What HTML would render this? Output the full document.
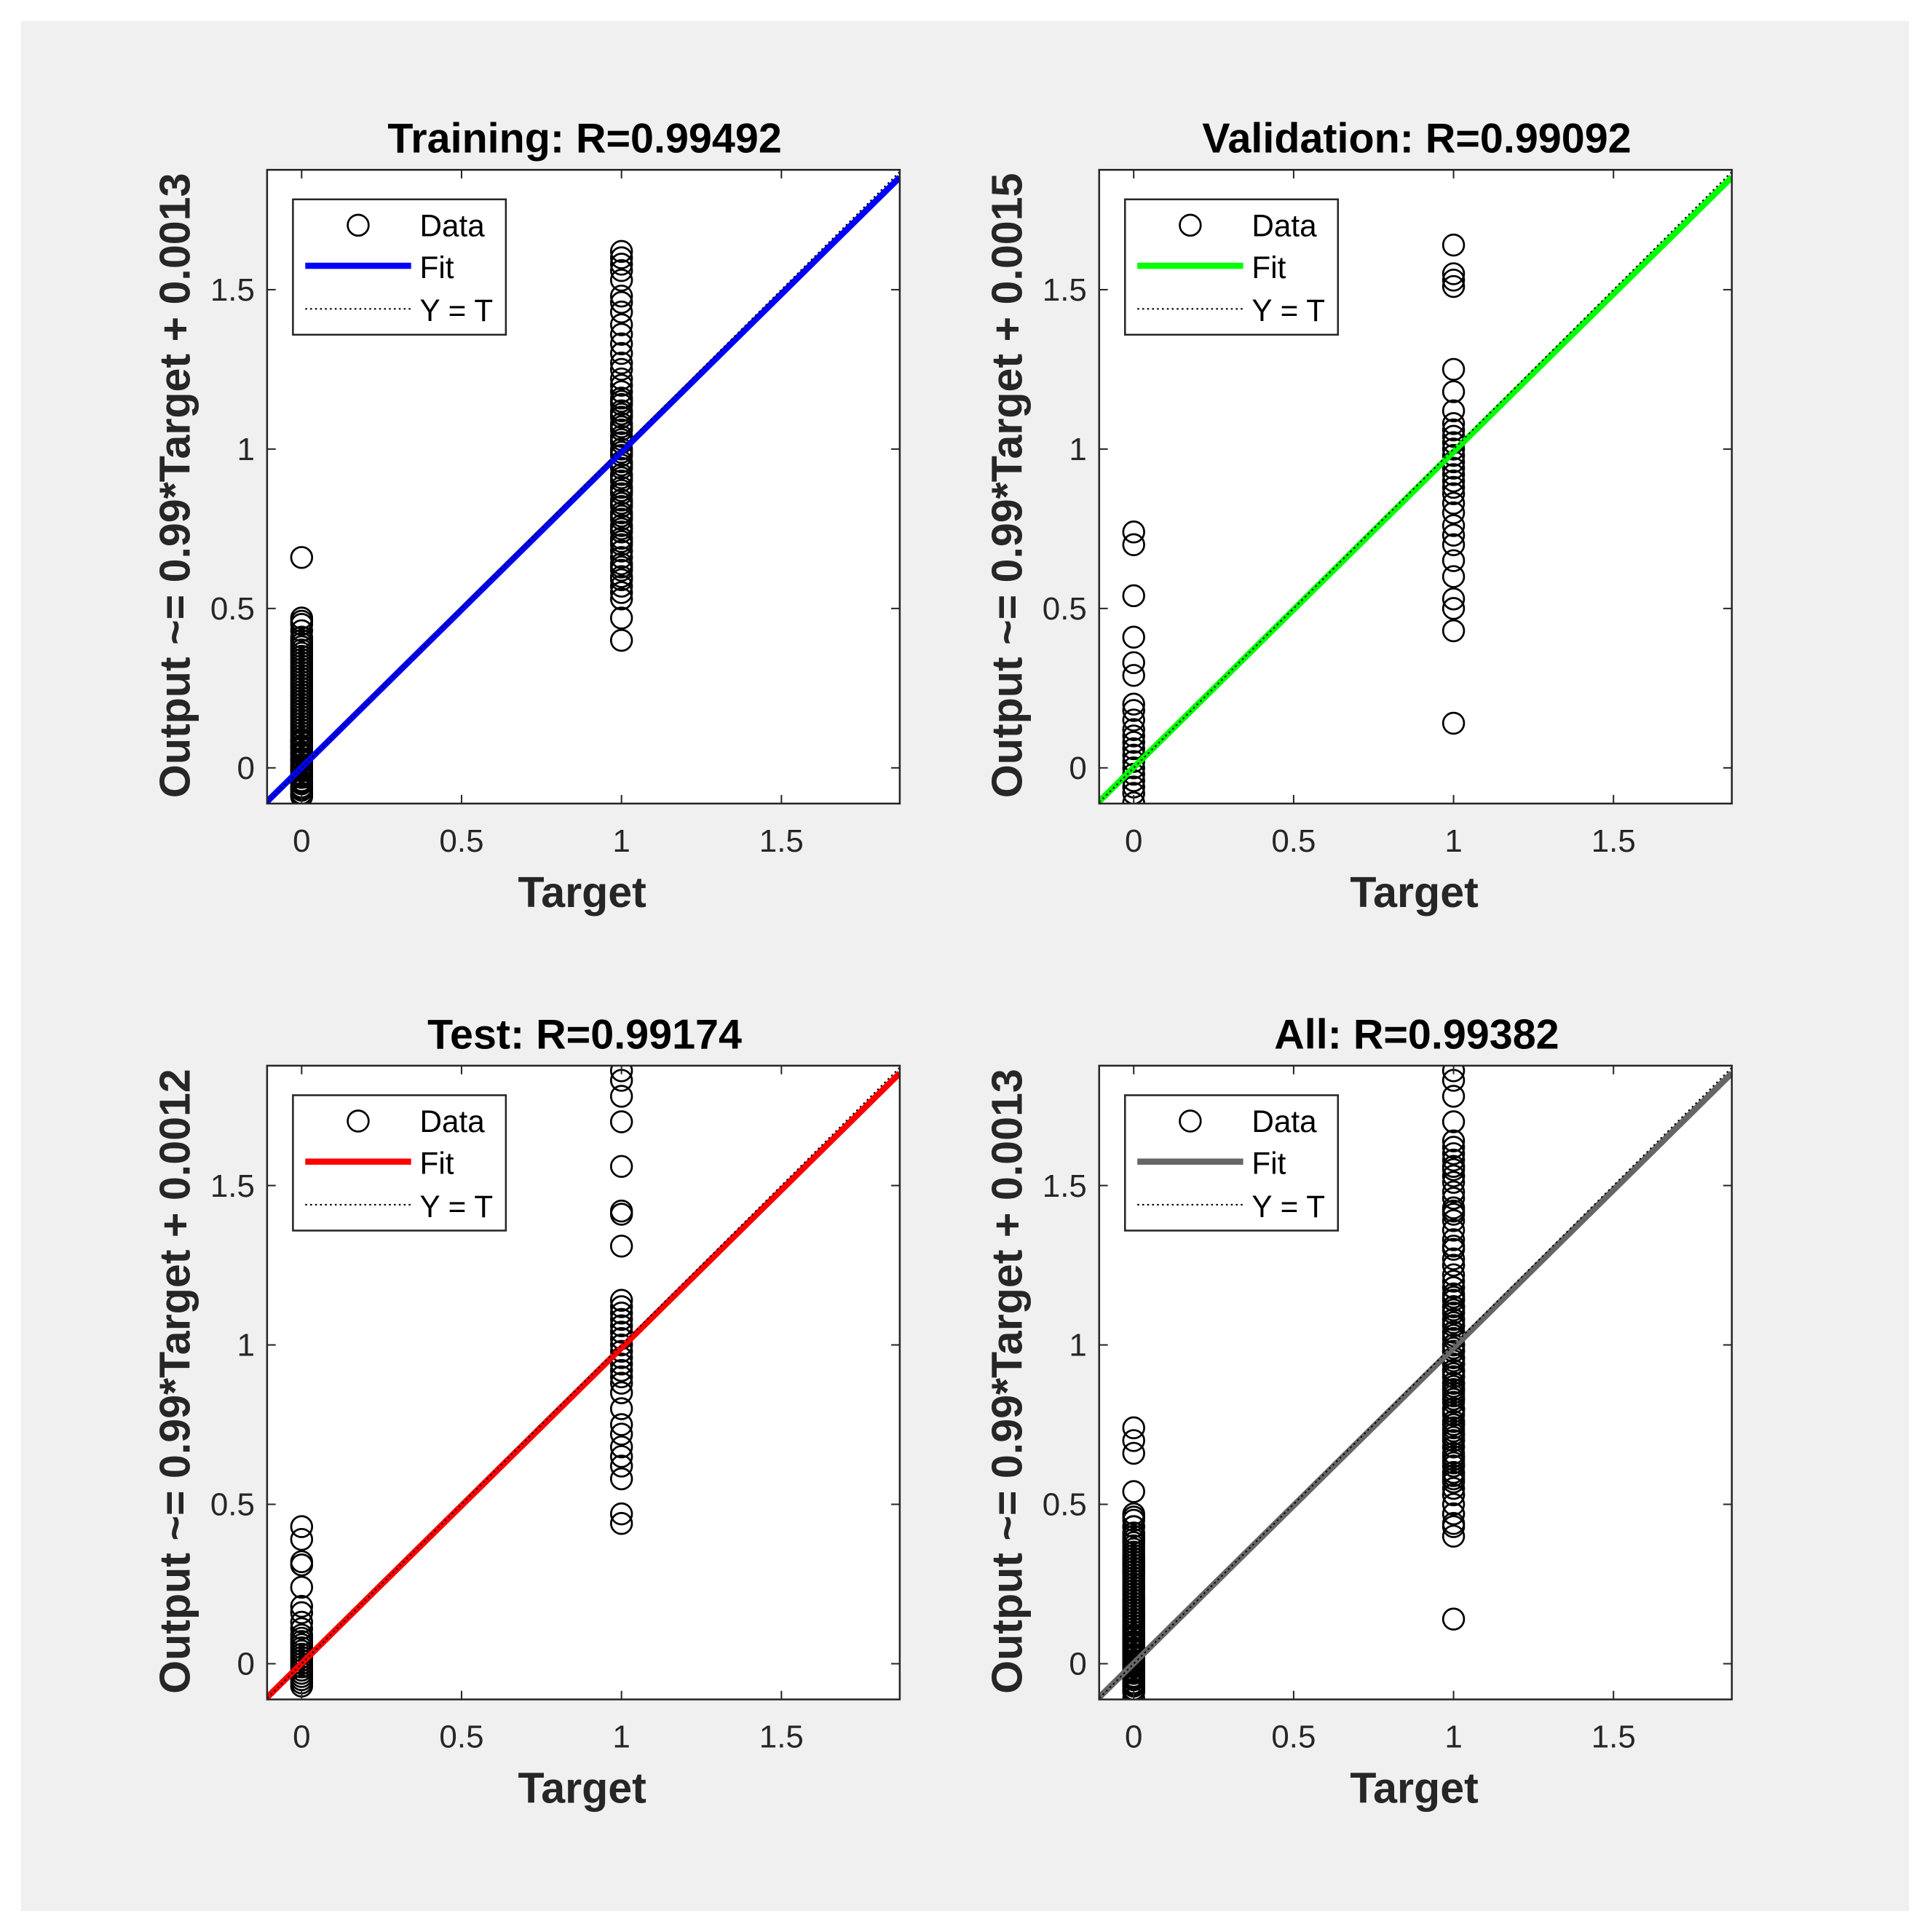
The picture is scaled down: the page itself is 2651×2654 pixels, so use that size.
<!DOCTYPE html>
<html><head><meta charset="utf-8"><style>
html,body{margin:0;padding:0;background:#fff;}
svg{display:block;font-family:"Liberation Sans",Arial,sans-serif;}
</style></head><body>
<svg id="fig" width="2651" height="2654" viewBox="0 0 1568 1570" preserveAspectRatio="none" xmlns="http://www.w3.org/2000/svg">
<rect x="0" y="0" width="1568" height="1570" fill="#fff"/>
<rect x="17" y="17" width="1534" height="1536" fill="#f0f0f0"/>
</svg>
<script>
const titles = ["Training: R=0.99492","Validation: R=0.99092","Test: R=0.99174","All: R=0.99382"];
const yLabels = ["Output ~= 0.99*Target + 0.0013","Output ~= 0.99*Target + 0.0015","Output ~= 0.99*Target + 0.0012","Output ~= 0.99*Target + 0.0013"];
const fitColors = ["#0000ff","#00ff00","#ff0000","#666666"];
const slopes = [0.99,0.99,0.99,0.99];
const intercepts = [0.0013,0.0015,0.0012,0.0013];
const xTicks = [0,0.5,1,1.5];
const xTickLabels = ["0","0.5","1","1.5"];
const yTicks = [0,0.5,1,1.5];
const yTickLabels = ["0","0.5","1","1.5"];
const trainOut0 = [-0.09,-0.085,-0.08,-0.07,-0.065,-0.06,-0.05,-0.045,-0.04,-0.03,-0.025,-0.02,-0.01,-0.005,0,0.005,0.01,0.02,0.025,0.03,0.04,0.045,0.05,0.06,0.065,0.07,0.08,0.085,0.09,0.1,0.11,0.12,0.13,0.14,0.15,0.16,0.17,0.18,0.19,0.2,0.21,0.22,0.23,0.24,0.25,0.26,0.27,0.28,0.29,0.3,0.31,0.32,0.33,0.34,0.35,0.36,0.37,0.38,0.39,0.4,0.41,0.43,0.45,0.46,0.47,0.66];
const trainOut1 = [0.4,0.47,0.53,0.55,0.57,0.59,0.6,0.62,0.63,0.64,0.66,0.68,0.7,0.71,0.72,0.74,0.75,0.76,0.78,0.79,0.8,0.82,0.83,0.84,0.86,0.87,0.88,0.9,0.91,0.92,0.94,0.95,0.96,0.98,0.99,1,1.02,1.03,1.04,1.06,1.07,1.08,1.1,1.11,1.12,1.14,1.15,1.16,1.18,1.2,1.22,1.25,1.27,1.3,1.33,1.36,1.39,1.43,1.46,1.48,1.53,1.56,1.58,1.6,1.62];
const valOut0 = [-0.11,-0.08,-0.06,-0.04,-0.02,0,0.02,0.04,0.06,0.08,0.1,0.12,0.15,0.18,0.2,0.29,0.33,0.41,0.54,0.7,0.74];
const valOut1 = [0.14,0.43,0.5,0.53,0.6,0.65,0.7,0.73,0.76,0.8,0.83,0.86,0.88,0.9,0.92,0.94,0.96,0.98,1,1.02,1.04,1.06,1.08,1.12,1.18,1.25,1.51,1.53,1.55,1.64];
const testOut0 = [-0.07,-0.06,-0.05,-0.04,-0.03,-0.02,-0.01,0,0.01,0.02,0.03,0.04,0.05,0.06,0.07,0.08,0.09,0.11,0.13,0.16,0.18,0.24,0.31,0.32,0.39,0.43];
const testOut1 = [0.44,0.47,0.58,0.62,0.65,0.68,0.72,0.75,0.8,0.85,0.88,0.9,0.92,0.94,0.96,0.98,1,1.02,1.04,1.06,1.08,1.1,1.12,1.14,1.31,1.41,1.42,1.56,1.7,1.78,1.83,1.86];
const allOut0 = trainOut0.concat(valOut0, testOut0);
const allOut1 = trainOut1.concat(valOut1, testOut1);
const outs0 = [trainOut0,valOut0,testOut0,allOut0];
const outs1 = [trainOut1,valOut1,testOut1,allOut1];

const NS="http://www.w3.org/2000/svg";
const svg=document.getElementById('fig');
const origins=[[217,138],[893,138],[217,866],[893,866]];
const W=514,H=515,XMIN=-0.108,XMAX=1.87,YMIN=-0.112,YMAX=1.876;
function mk(tag,attrs,parent){const e=document.createElementNS(NS,tag);for(const k in attrs)e.setAttribute(k,attrs[k]);(parent||svg).appendChild(e);return e;}

for(let p=0;p<4;p++){
  const [ox,oy]=origins[p];
  const sx=v=>ox+(v-XMIN)/(XMAX-XMIN)*W;
  const sy=v=>oy+H-(v-YMIN)/(YMAX-YMIN)*H;
  const g=mk('g',{});
  
  
  const bg=mk('rect',{x:ox,y:oy,width:W,height:H,fill:'#fff'},g);
  
  
  const cid='clip'+p;
  const cp=mk('clipPath',{id:cid},g);mk('rect',{x:ox,y:oy,width:W,height:H},cp);
  const marks=mk('g',{'clip-path':'url(#'+cid+')'},g);
  [[0,outs0[p]],[1,outs1[p]]].forEach(([t,arr])=>{
    arr.forEach(v=>{
      const c=mk('circle',{cx:sx(t),cy:sy(v),r:8.5,fill:'none',stroke:'#000','stroke-width':1.6},marks);
      
      
    });
  });
  const fl=mk('line',{x1:sx(XMIN),y1:sy(slopes[p]*XMIN+intercepts[p]),x2:sx(XMAX),y2:sy(slopes[p]*XMAX+intercepts[p]),stroke:fitColors[p],'stroke-width':5},marks);
  
  
  const yt=mk('line',{x1:sx(XMIN),y1:sy(XMIN),x2:sx(XMAX),y2:sy(XMAX),stroke:'#000','stroke-width':1.2,'stroke-dasharray':'1.5,2.5'},marks);
  
  
  xTicks.forEach((v,i)=>{
    const x=sx(v);
    mk('line',{x1:x,y1:oy+H,x2:x,y2:oy+H-7,stroke:'#262626','stroke-width':1.2},g);
    mk('line',{x1:x,y1:oy,x2:x,y2:oy+7,stroke:'#262626','stroke-width':1.2},g);
    const t=mk('text',{x:x,y:oy+H+39,'text-anchor':'middle','font-size':26,fill:'#262626'},g);
    t.textContent=xTickLabels[i];
    
    
  });
  yTicks.forEach((v,i)=>{
    const y=sy(v);
    mk('line',{x1:ox,y1:y,x2:ox+7,y2:y,stroke:'#262626','stroke-width':1.2},g);
    mk('line',{x1:ox+W,y1:y,x2:ox+W-7,y2:y,stroke:'#262626','stroke-width':1.2},g);
    const t=mk('text',{x:ox-10,y:y+9,'text-anchor':'end','font-size':26,fill:'#262626'},g);
    t.textContent=yTickLabels[i];
    
    
  });
  mk('rect',{x:ox,y:oy,width:W,height:H,fill:'none',stroke:'#262626','stroke-width':1.5},g);
  const ti=mk('text',{x:ox+W/2+1,y:oy-14,'text-anchor':'middle','font-size':34,'font-weight':'bold',fill:'#000'},g);
  ti.textContent=titles[p];
  
  
  const xl=mk('text',{x:ox+W/2-1,y:oy+H+84,'text-anchor':'middle','font-size':35,'font-weight':'bold',fill:'#262626'},g);
  xl.textContent='Target';
  
  
  const yx=ox-63, yy=oy+H/2-1;
  const yl=mk('text',{x:yx,y:yy,'text-anchor':'middle','font-size':35,'font-weight':'bold',fill:'#262626',transform:'rotate(-90 '+(yx)+' '+yy+')'},g);
  yl.textContent=yLabels[p];
  
  
  const lg=mk('g',{},g);
  
  
  const lx=ox+21, ly=oy+24;
  mk('rect',{x:lx,y:ly,width:173,height:110,fill:'#fff',stroke:'#262626','stroke-width':1.5},lg);
  mk('circle',{cx:lx+53,cy:ly+21,r:8.5,fill:'none',stroke:'#000','stroke-width':1.6},lg);
  mk('line',{x1:lx+10,y1:ly+54,x2:lx+96,y2:ly+54,stroke:fitColors[p],'stroke-width':5},lg);
  mk('line',{x1:lx+10,y1:ly+89,x2:lx+96,y2:ly+89,stroke:'#000','stroke-width':1.2,'stroke-dasharray':'1.5,2.5'},lg);
  [['Data',ly+30],['Fit',ly+64],['Y = T',ly+99]].forEach(([s,y])=>{
    const t=mk('text',{x:lx+103,y:y,'font-size':25,fill:'#000'},lg);
    t.textContent=s;
    
    
  });
}
</script>
</body></html>
